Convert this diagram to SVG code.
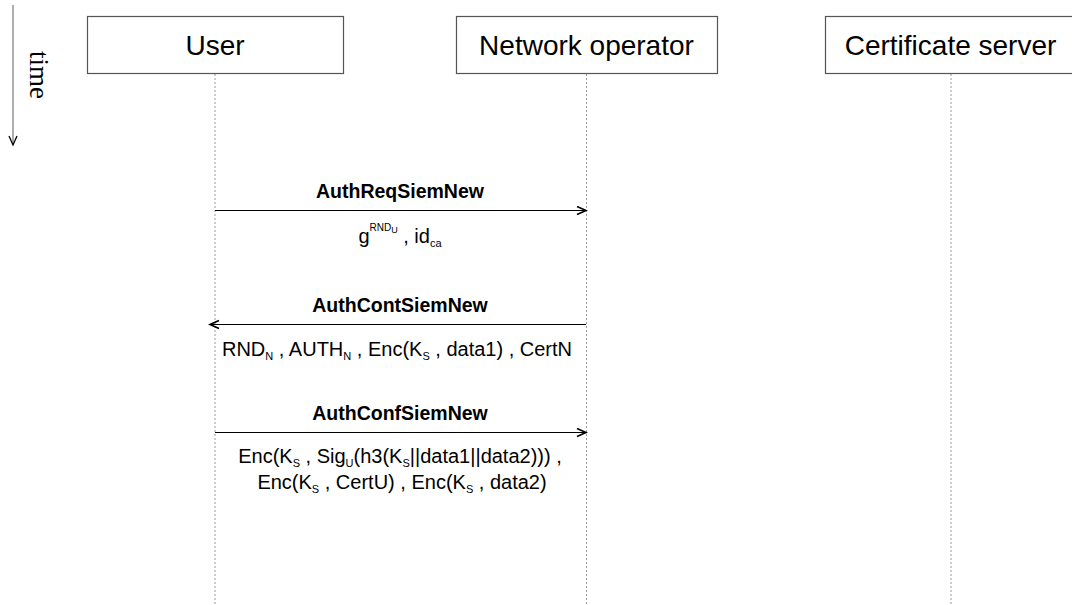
<svg xmlns="http://www.w3.org/2000/svg" width="1072" height="605" viewBox="0 0 1072 605">
<style>
.box{fill:#fff;stroke:#555;stroke-width:1.2}
.lbl{font-family:"Liberation Sans",Arial,sans-serif;font-size:28px;fill:#000;text-anchor:middle}
.life{stroke:#999;stroke-width:1;stroke-dasharray:2,2}
.msg{stroke:#000;stroke-width:1.2;fill:none}
.mt{font-family:"Liberation Sans",Arial,sans-serif;font-size:19.5px;font-weight:bold;fill:#000;text-anchor:middle}
.pt{font-family:"Liberation Sans",Arial,sans-serif;font-size:20px;fill:#000;text-anchor:middle}
.sub{font-size:11px}
</style>
<defs>
<marker id="ah" markerWidth="12" markerHeight="12" refX="10" refY="5" orient="auto" markerUnits="userSpaceOnUse">
<path d="M1,1 L10,5 L1,9" fill="none" stroke="#000" stroke-width="1.6"/>
</marker>
<marker id="ta" markerWidth="12" markerHeight="12" refX="10" refY="5" orient="auto" markerUnits="userSpaceOnUse">
<path d="M1,1 L10,5 L1,9" fill="none" stroke="#000" stroke-width="1.3"/>
</marker>
</defs>
<rect width="1072" height="605" fill="#fff"/>
<g id="time">
<line x1="13" y1="5" x2="13" y2="145" stroke="#777" stroke-width="1.2" marker-end="url(#ta)"/>
<text transform="translate(30,75) rotate(90)" font-family="Liberation Serif,serif" font-size="27" text-anchor="middle" fill="#000">time</text>
</g>
<g id="connectors">
<line class="life" x1="215" y1="74" x2="215" y2="605"/>
<line class="life" x1="586.5" y1="74" x2="586.5" y2="605"/>
<line class="life" x1="951" y1="74" x2="951" y2="605"/>
<line class="msg" x1="215" y1="210.5" x2="586" y2="210.5" marker-end="url(#ah)"/>
<line class="msg" x1="586" y1="324.5" x2="210" y2="324.5" marker-end="url(#ah)"/>
<line class="msg" x1="215" y1="432.5" x2="586" y2="432.5" marker-end="url(#ah)"/>
</g>
<g id="user">
<rect class="box" x="87.5" y="16.5" width="256" height="57"/>
<text class="lbl" x="215" y="55">User</text>
</g>
<g id="network-operator">
<rect class="box" x="456.5" y="16.5" width="261" height="57"/>
<text class="lbl" x="586.5" y="55">Network operator</text>
</g>
<g id="certificate-server">
<rect class="box" x="825.5" y="16.5" width="260" height="57"/>
<text class="lbl" x="950.5" y="55">Certificate server</text>
</g>
<g id="labels">
<text class="mt" x="400" y="198">AuthReqSiemNew</text>
<text class="pt" x="400" y="243">g<tspan font-size="10" dy="-12">RND</tspan><tspan font-size="9" dy="2">U</tspan><tspan dy="10"> , id</tspan><tspan class="sub" dy="4">ca</tspan></text>
<text class="mt" x="400" y="312">AuthContSiemNew</text>
<text class="pt" x="397" y="356">RND<tspan class="sub" dy="4">N</tspan><tspan dy="-4"> , AUTH</tspan><tspan class="sub" dy="4">N</tspan><tspan dy="-4"> , Enc(K</tspan><tspan class="sub" dy="4">S</tspan><tspan dy="-4"> , data1) , CertN</tspan></text>
<text class="mt" x="400" y="420">AuthConfSiemNew</text>
<text class="pt" x="400" y="463">Enc(K<tspan class="sub" dy="4">S</tspan><tspan dy="-4"> , Sig</tspan><tspan class="sub" dy="4">U</tspan><tspan dy="-4">(h3(K</tspan><tspan class="sub" dy="4">S</tspan><tspan dy="-4">||data1||data2))) ,</tspan></text>
<text class="pt" x="402" y="489">Enc(K<tspan class="sub" dy="4">S</tspan><tspan dy="-4"> , CertU) , Enc(K</tspan><tspan class="sub" dy="4">S</tspan><tspan dy="-4"> , data2)</tspan></text>
</g>
</svg>
